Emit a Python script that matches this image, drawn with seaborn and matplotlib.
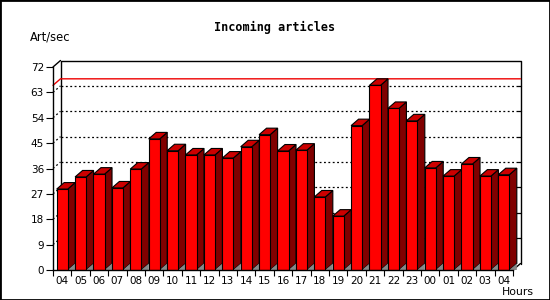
import numpy as np
import pandas as pd
import matplotlib
matplotlib.use("Agg")
import matplotlib.pyplot as plt
import seaborn as sns
from matplotlib.patches import Polygon, Rectangle
from matplotlib.lines import Line2D

# ---- data ----
hours = ["04", "05", "06", "07", "08", "09", "10", "11", "12", "13", "14", "15",
         "16", "17", "18", "19", "20", "21", "22", "23", "00", "01", "02", "03", "04"]
rates = [28.7, 33.0, 34.0, 29.1, 35.8, 46.5, 42.3, 40.8, 40.8, 39.7, 43.7, 48.0,
         42.2, 42.5, 25.9, 19.1, 51.2, 65.5, 57.3, 52.9, 36.2, 33.3, 37.6, 33.3, 33.8]
yticks = [0, 9, 18, 27, 36, 45, 54, 63, 72]
title = "Incoming articles"
ylabel = "Art/sec"
xlabel = "Hours"

sns.set_theme(style="white")
plt.rcParams["font.family"] = ["DejaVu Sans"]

W, H = 550, 300
fig = plt.figure(figsize=(W / 100, H / 100), dpi=100)
fig.patch.set_facecolor("white")
ax_l, ax_b, ax_w, ax_h = 53, 30, 460, 203
ax = fig.add_axes([ax_l / W, ax_b / H, ax_w / W, ax_h / H])
ax.set_facecolor("white")

n = len(rates)
df = pd.DataFrame({"slot": list(range(n)), "rate": rates})
sns.barplot(data=df, x="slot", y="rate", color="#ff0000", saturation=1,
            width=0.6, edgecolor="black", linewidth=0.8, ax=ax, zorder=5)

ymax = yticks[-1]
ax.set_xlim(-0.5, n - 0.5)
ax.set_ylim(0, ymax)

# pixel -> data conversion for 3D depth
ux = n / ax_w
uy = ymax / ax_h
ddx = 7.5 * ux
ddy = 6.5 * uy

x0, x1 = -0.5, n - 0.5

# back plane: gridlines dotted
for v in yticks[1:-1]:
    ax.add_line(Line2D([x0 + ddx, x1 + ddx], [v + ddy, v + ddy], color="black",
                       lw=0.9, ls=(0, (1.5, 2.0)), clip_on=False, zorder=1))
    ax.add_line(Line2D([x0, x0 + ddx], [v, v + ddy], color="black",
                       lw=0.9, ls=(0, (1.5, 2.0)), clip_on=False, zorder=1))
    # inward ticks on right back edge
    ax.add_line(Line2D([x1 + ddx - 3 * ux, x1 + ddx], [v + ddy, v + ddy], color="black",
                       lw=0.9, clip_on=False, zorder=1))

# back box edges
ax.add_line(Line2D([x0 + ddx, x0 + ddx, x1 + ddx, x1 + ddx],
                   [ddy, ymax + ddy, ymax + ddy, ddy], color="black", lw=1.0,
                   clip_on=False, zorder=2))
# connectors front -> back
ax.add_line(Line2D([x0, x0 + ddx], [ymax, ymax + ddy], color="black", lw=1.0,
                   clip_on=False, zorder=2))
ax.add_line(Line2D([x1, x1 + ddx], [0, ddy], color="black", lw=1.0,
                   clip_on=False, zorder=2))

# max line (red)
mx = max(rates)
ax.add_line(Line2D([x0, x0 + ddx, x1 + ddx], [mx, mx + ddy, mx + ddy], color="#ee0000",
                   lw=1.0, clip_on=False, zorder=2))

# 3D faces for bars
for i, p in enumerate(ax.patches[:n]):
    bx = p.get_x()
    bw = p.get_width()
    bh = p.get_height()
    z = 5 + i * 0.01
    p.set_zorder(z + 0.005)
    xr = bx + bw
    side = Polygon([[xr, 0], [xr + ddx, ddy], [xr + ddx, bh + ddy], [xr, bh]],
                   closed=True, facecolor="#800000", edgecolor="black", lw=0.8,
                   clip_on=False, zorder=z)
    top = Polygon([[bx, bh], [bx + ddx, bh + ddy], [xr + ddx, bh + ddy], [xr, bh]],
                  closed=True, facecolor="#cc0000", edgecolor="black", lw=0.8,
                  clip_on=False, zorder=z)
    shadow = Polygon([[xr, 0], [xr + ddx, ddy], [xr + ddx, 0]], closed=True,
                     facecolor="#888888", edgecolor="none", clip_on=False, zorder=z)
    ax.add_patch(side)
    ax.add_patch(top)
    ax.add_patch(shadow)

# spines
for s in ["top", "right"]:
    ax.spines[s].set_visible(False)
for s in ["left", "bottom"]:
    ax.spines[s].set_color("black")
    ax.spines[s].set_linewidth(1.0)
    ax.spines[s].set_zorder(10)

ax.grid(False)
ax.set_xlabel("")
ax.set_ylabel("")
ax.set_yticks(yticks)
ax.set_yticklabels([str(v) for v in yticks])
ax.set_xticks(list(range(n)))
ax.set_xticklabels(hours)
ax.set_xticks([k - 0.5 for k in range(n + 1)], minor=True)
ax.tick_params(axis="y", which="major", direction="out", length=5, width=0.8,
               color="black", labelsize=7.5, pad=1.5, left=True)
ax.tick_params(axis="x", which="major", length=0, labelsize=7.5, pad=4, bottom=True)
ax.tick_params(axis="x", which="minor", direction="out", length=4, width=0.8,
               color="black", bottom=True)
for lab in ax.get_xticklabels() + ax.get_yticklabels():
    lab.set_color("black")

fig.text(275 / W, 1 - 27 / H, title, ha="center", va="center",
         fontsize=8.5, fontweight="bold", family="DejaVu Sans Mono", color="black")
fig.text(30 / W, 1 - 37 / H, ylabel, ha="left", va="center",
         fontsize=8.3, family="DejaVu Sans", color="black")
fig.text(534 / W, 1 - 292 / H, xlabel, ha="right", va="center",
         fontsize=7.8, family="DejaVu Sans", color="black")

fig.add_artist(Rectangle((0, 0), 1, 1, transform=fig.transFigure, fill=False,
                         edgecolor="black", lw=2.0))

fig.savefig("out.png", dpi=100, facecolor="white")
